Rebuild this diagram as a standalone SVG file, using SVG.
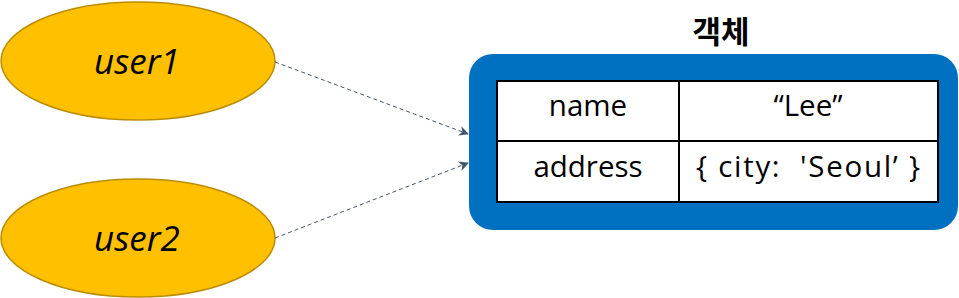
<svg xmlns="http://www.w3.org/2000/svg" width="959" height="298" viewBox="0 0 959 298">
<defs>
<style>
.ell{fill:#FFC000;stroke:#BC8C00;stroke-width:1.5}
.lbl{font-family:"Open Sans","Noto Sans CJK KR",sans-serif;font-style:italic;font-size:35px;fill:#000;text-anchor:middle}
.cell{font-family:"Open Sans","Noto Sans CJK KR",sans-serif;font-size:29.5px;fill:#000;text-anchor:middle;white-space:pre}
.title{font-family:"Noto Sans CJK KR",sans-serif;font-weight:bold;font-size:31px;fill:#000;text-anchor:middle}
.conn{fill:none;stroke:#44546A;stroke-width:1;stroke-dasharray:4 3}
.grid{fill:none;stroke:#000;stroke-width:2}
</style>
<marker id="ah" viewBox="0 0 10 10" refX="9" refY="5" markerWidth="10" markerHeight="10" markerUnits="userSpaceOnUse" orient="auto">
<path d="M0,0 L10,5 L0,10 L3,5 Z" fill="#44546A"/>
</marker>
</defs>
<g id="user1">
<ellipse class="ell" cx="138" cy="61" rx="137" ry="59"/>
<text class="lbl" x="137" y="74">user1</text>
</g>
<g id="user2">
<ellipse class="ell" cx="138" cy="238" rx="137" ry="59"/>
<text class="lbl" x="137" y="251">user2</text>
</g>
<g id="object">
<text class="title" x="721" y="43">객체</text>
<rect x="469" y="54" width="489" height="176" rx="24" ry="24" fill="#0070C0"/>
<rect x="497" y="81" width="441" height="121" fill="#fff"/>
<rect class="grid" x="497" y="81" width="441" height="121"/>
<line class="grid" x1="679" y1="81" x2="679" y2="202"/>
<line class="grid" x1="497" y1="141" x2="938" y2="141"/>
<text class="cell" x="588" y="116">name</text>
<text class="cell" x="808" y="116">“Lee”</text>
<text class="cell" x="588" y="177">address</text>
<text class="cell" x="808" y="177" textLength="224" lengthAdjust="spacing">{ city:  'Seoul’ }</text>
</g>
<g id="connectors">
<line class="conn" x1="275" y1="62" x2="468" y2="134" marker-end="url(#ah)"/>
<line class="conn" x1="275" y1="238" x2="468" y2="163" marker-end="url(#ah)"/>
</g>
</svg>
